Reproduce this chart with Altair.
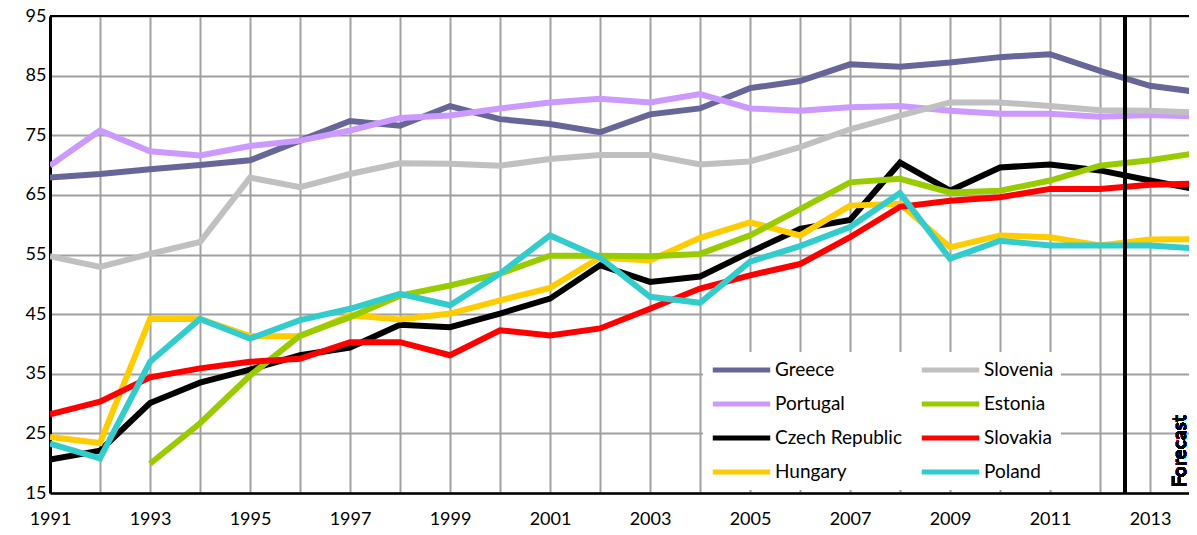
import altair as alt
import pandas as pd

years = list(range(1991, 2015))

# legend is filled column by column: Greece, Portugal, Czech Republic, Hungary | Slovenia, Estonia, Slovakia, Poland
countries = ["Greece", "Portugal", "Czech Republic", "Hungary",
             "Slovenia", "Estonia", "Slovakia", "Poland"]
colors = ["#666699", "#cc99ff", "#000000", "#ffcc00",
          "#c0c0c0", "#99cc00", "#ff0000", "#33cccc"]

greece = [67.9, 68.5, 69.3, 70.0, 70.8, 74.1, 77.4, 76.6, 79.9, 77.7, 76.9, 75.5,
          78.5, 79.5, 82.9, 84.1, 86.9, 86.5, 87.2, 88.1, 88.6, 85.8, 83.3, 82.2]
portugal = [69.9, 75.8, 72.3, 71.6, 73.2, 74.1, 75.8, 77.9, 78.3, 79.5, 80.5, 81.1,
            80.5, 81.9, 79.5, 79.1, 79.7, 79.9, 79.1, 78.6, 78.6, 78.1, 78.4, 78.1]
czech = [20.6, 22.1, 30.1, 33.5, 35.7, 38.1, 39.4, 43.2, 42.8, 45.1, 47.6, 53.2,
         50.4, 51.3, 55.4, 59.3, 60.8, 70.4, 65.7, 69.6, 70.1, 69.1, 67.4, 65.8]
hungary = [24.4, 23.4, 44.2, 44.2, 41.3, 41.3, 44.8, 44.1, 45.1, 47.3, 49.4, 54.5,
           54.0, 57.8, 60.4, 58.2, 63.2, 63.5, 56.2, 58.2, 57.9, 56.5, 57.5, 57.6]
slovenia = [54.7, 52.9, 55.1, 57.1, 67.9, 66.3, 68.5, 70.3, 70.2, 69.9, 71.0, 71.7,
            71.7, 70.1, 70.6, 73.0, 76.0, 78.3, 80.5, 80.5, 79.9, 79.2, 79.1, 78.8]
estonia = [None, None, 19.9, 26.7, 34.7, 41.4, 44.5, 48.1, 49.8, 51.8, 54.8, 54.8,
           54.7, 55.1, 58.2, 62.6, 67.1, 67.7, 65.4, 65.7, 67.4, 69.9, 70.8, 72.1]
slovakia = [28.2, 30.3, 34.4, 35.9, 37.0, 37.5, 40.3, 40.3, 38.1, 42.3, 41.4, 42.6,
            45.9, 49.3, 51.5, 53.4, 57.9, 63.0, 64.0, 64.6, 66.0, 66.0, 66.7, 66.9]
poland = [23.3, 20.8, 37.0, 44.2, 40.9, 44.0, 45.9, 48.4, 46.5, 51.8, 58.2, 54.5,
          47.9, 46.9, 53.8, 56.4, 59.6, 65.3, 54.3, 57.3, 56.5, 56.5, 56.5, 56.0]

series = [greece, portugal, czech, hungary, slovenia, estonia, slovakia, poland]

y_ticks = [15, 25, 35, 45, 55, 65, 75, 85, 95]
x_ticks = list(range(1991, 2014))
forecast_start = 2012.5

rows = []
for name, vals in zip(countries, series):
    for yr, v in zip(years, vals):
        if v is not None:
            rows.append({"year": yr, "value": v, "country": name})
df = pd.DataFrame(rows)

FONT = "Lato"
W, H = 1139, 477

x_scale = alt.Scale(domain=[1991, 2013.78], nice=False, zero=False)
y_scale = alt.Scale(domain=[15, 95], nice=False, zero=False)

lines = alt.Chart(df).mark_line(strokeWidth=6, clip=True).encode(
    x=alt.X("year:Q", scale=x_scale,
            axis=alt.Axis(values=x_ticks, format="d", title=None,
                          labelExpr="datum.value % 2 == 1 ? datum.label : ''",
                          labelFontSize=18, labelFont=FONT, labelColor="black",
                          labelPadding=17, ticks=False,
                          domainColor="black", domainWidth=2.5,
                          grid=True, gridColor="#a0a0a0", gridWidth=2,
                          labelFlush=False)),
    y=alt.Y("value:Q", scale=y_scale,
            axis=alt.Axis(values=y_ticks, title=None, labelFontSize=18,
                          labelFont=FONT, labelColor="black", labelPadding=4,
                          ticks=False, domainColor="black", domainWidth=3,
                          grid=True, gridColor="#a0a0a0", gridWidth=2)),
    color=alt.Color("country:N",
                    scale=alt.Scale(domain=countries, range=colors),
                    sort=countries,
                    legend=alt.Legend(orient="none", legendX=653, legendY=336,
                                      columns=2, direction="vertical", title=None,
                                      symbolType="stroke", symbolSize=3300,
                                      symbolStrokeWidth=5, clipHeight=22,
                                      labelFontSize=19, labelFont=FONT,
                                      labelColor="black", labelOffset=2,
                                      fillColor="white", padding=7,
                                      rowPadding=12, columnPadding=17,
                                      gridAlign="all", labelLimit=300)),
)

top_rule = alt.Chart(df).mark_rule(color="black", strokeWidth=2).encode(
    x=alt.value(0), x2=alt.value(W), y=alt.value(0)
)

fc_rule = alt.Chart(df).mark_rule(color="black", strokeWidth=3).encode(
    x=alt.datum(forecast_start, scale=x_scale),
    y=alt.value(0), y2=alt.value(H)
)

fc_text = alt.Chart(df).mark_text(
    text="Forecast", angle=270, align="left", baseline="middle",
    fontSize=19, fontWeight="bold", font=FONT, color="black"
).encode(
    x=alt.datum(2013.6, scale=x_scale),
    y=alt.datum(16.0, scale=y_scale),
)

chart = alt.layer(lines, fc_rule, top_rule, fc_text).properties(
    width=W, height=H,
    autosize=alt.AutoSizeParams(type="none"),
    padding={"left": 42, "top": 8, "right": 0, "bottom": 36},
).configure_view(stroke=None).configure(background="white")

chart.save("out.html", embed_options={"renderer": "svg", "actions": False})
